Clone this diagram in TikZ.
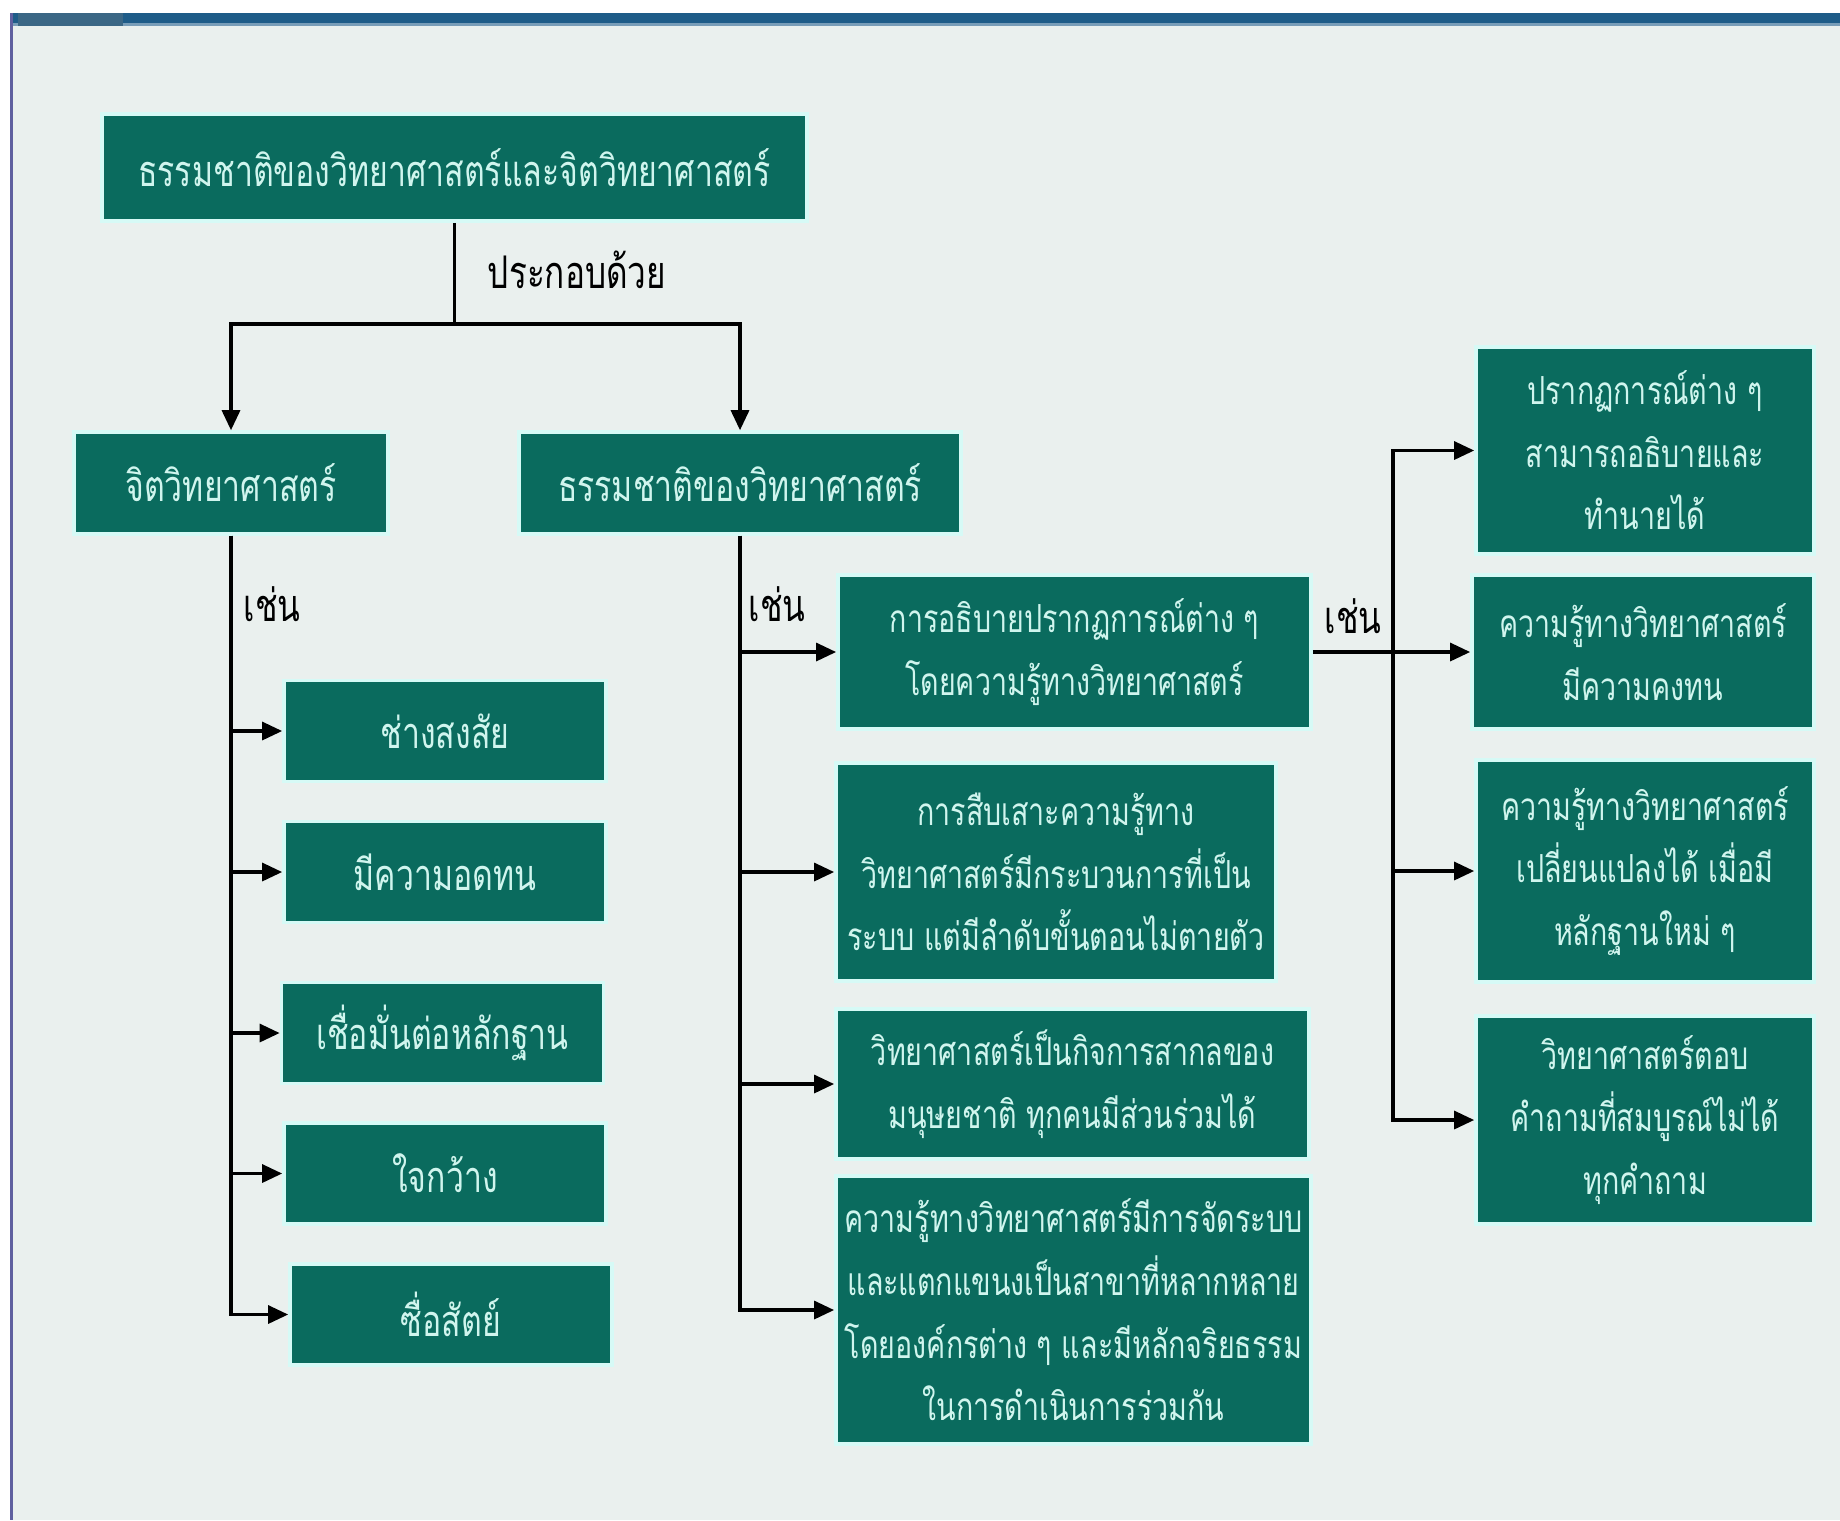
\documentclass[tikz,border=0pt]{standalone}
\usepackage{fontspec}
\newfontfamily\thaifont[Script=Thai,FakeStretch=0.74]{Loma}
\usepackage{tikz}
\usetikzlibrary{arrows.meta}
\definecolor{boxteal}{RGB}{10,107,94}
\definecolor{boxtext}{RGB}{208,245,238}
\definecolor{boxedge}{RGB}{214,250,246}
\definecolor{panel}{RGB}{234,240,238}
\definecolor{topbar}{RGB}{30,92,136}

\begin{document}
\begin{tikzpicture}[
    x=0.01cm, y=-0.01cm,
    topic/.style={rectangle, fill=boxteal, draw=boxedge, line width=1pt, inner sep=0pt, align=center, text=boxtext, font={\thaifont\fontsize{12.3}{19}\selectfont}},
    point/.style={topic, font={\thaifont\fontsize{11}{17.8}\selectfont}},
    tag/.style={font={\thaifont\fontsize{12.8}{19}\selectfont}, inner sep=0pt},
    arrow/.style={-{Triangle[length=0.2cm,width=0.18cm]}, line width=0.9pt},
    link/.style={line width=0.9pt}
]
  \useasboundingbox (0,0) rectangle (1840,1520);
  % Frame
  \fill[white] (0,0) rectangle (1840,1520);
  \fill[panel] (12,13) rectangle (1840,1520);
  \fill[topbar] (12,13) rectangle (1840,23);
  \fill[topbar!60] (12,23) rectangle (1840,26);
  \fill[topbar!70!gray] (18,13) rectangle (123,26);
  \fill[blue!25!gray] (10,13) rectangle (13,1520);

  % Top layer
  \node[topic, minimum width=7.05cm, minimum height=1.07cm] (title) at (454.5,167.5) {ธรรมชาติของวิทยาศาสตร์และจิตวิทยาศาสตร์};

  % Second layer
  \node[topic, minimum width=3.14cm, minimum height=1.02cm] (psych) at (231,483) {จิตวิทยาศาสตร์};
  \node[topic, minimum width=4.42cm, minimum height=1.02cm] (nature) at (740,483) {ธรรมชาติของวิทยาศาสตร์};

  % Left column
  \node[topic, minimum width=3.22cm, minimum height=1.01cm] (curious) at (445,731) {ช่างสงสัย};
  \node[topic, minimum width=3.22cm, minimum height=1.01cm] (patient) at (445,872) {มีความอดทน};
  \node[topic, minimum width=3.22cm, minimum height=1.01cm] (evidence) at (442.5,1033) {เชื่อมั่นต่อหลักฐาน};
  \node[topic, minimum width=3.22cm, minimum height=1.01cm] (openmind) at (445,1173.5) {ใจกว้าง};
  \node[topic, minimum width=3.22cm, minimum height=1.01cm] (honest) at (451,1314.5) {ซื่อสัตย์};

  % Middle column
  \node[point, minimum width=4.73cm, minimum height=1.54cm] (explain) at (1074.5,652) {การอธิบายปรากฏการณ์ต่าง ๆ\\โดยความรู้ทางวิทยาศาสตร์};
  \node[point, minimum width=4.40cm, minimum height=2.18cm] (inquiry) at (1056,872) {การสืบเสาะความรู้ทาง\\วิทยาศาสตร์มีกระบวนการที่เป็น\\ระบบ แต่มีลำดับขั้นตอนไม่ตายตัว};
  \node[point, minimum width=4.73cm, minimum height=1.50cm] (universal) at (1072.5,1084) {วิทยาศาสตร์เป็นกิจการสากลของ\\มนุษยชาติ ทุกคนมีส่วนร่วมได้};
  \node[point, minimum width=4.75cm, minimum height=2.68cm] (organized) at (1073.5,1310) {ความรู้ทางวิทยาศาสตร์มีการจัดระบบ\\และแตกแขนงเป็นสาขาที่หลากหลาย\\โดยองค์กรต่าง ๆ และมีหลักจริยธรรม\\ในการดำเนินการร่วมกัน};

  % Right column
  \node[point, minimum width=3.38cm, minimum height=2.07cm] (predict) at (1645,450.5) {ปรากฏการณ์ต่าง ๆ\\สามารถอธิบายและ\\ทำนายได้};
  \node[point, minimum width=3.42cm, minimum height=1.54cm] (durable) at (1643,652) {ความรู้ทางวิทยาศาสตร์\\มีความคงทน};
  \node[point, minimum width=3.38cm, minimum height=2.22cm] (change) at (1645,871) {ความรู้ทางวิทยาศาสตร์\\เปลี่ยนแปลงได้ เมื่อมี\\หลักฐานใหม่ ๆ};
  \node[point, minimum width=3.38cm, minimum height=2.08cm] (limits) at (1645,1120) {วิทยาศาสตร์ตอบ\\คำถามที่สมบูรณ์ไม่ได้\\ทุกคำถาม};

  % Labels
  \node[tag] (consists) at (577,270) {ประกอบด้วย};
  \node[tag] (egleft) at (272,604) {เช่น};
  \node[tag] (egmid) at (777,604) {เช่น};
  \node[tag] (egright) at (1353,616) {เช่น};

  % Arrows
  \coordinate (split) at (454.5,324);
  \coordinate (hub) at (1393,652);
  \draw[arrow] (title.south) -- (split) -| (psych.north);
  \draw[arrow] (split) -| (nature.north);

  \draw[arrow] (psych.south) |- (curious.west);
  \draw[arrow] (psych.south) |- (patient.west);
  \draw[arrow] (psych.south) |- (evidence.west);
  \draw[arrow] (psych.south) |- (openmind.west);
  \draw[arrow] (psych.south) |- (honest.west);

  \draw[arrow] (nature.south) |- (explain.west);
  \draw[arrow] (nature.south) |- (inquiry.west);
  \draw[arrow] (nature.south) |- (universal.west);
  \draw[arrow] (nature.south) |- (organized.west);

  \draw[link] (explain.east) -- (hub);
  \draw[arrow] (hub) |- (predict.west);
  \draw[arrow] (hub) -- (durable.west);
  \draw[arrow] (hub) |- (change.west);
  \draw[arrow] (hub) |- (limits.west);
\end{tikzpicture}
\end{document}
